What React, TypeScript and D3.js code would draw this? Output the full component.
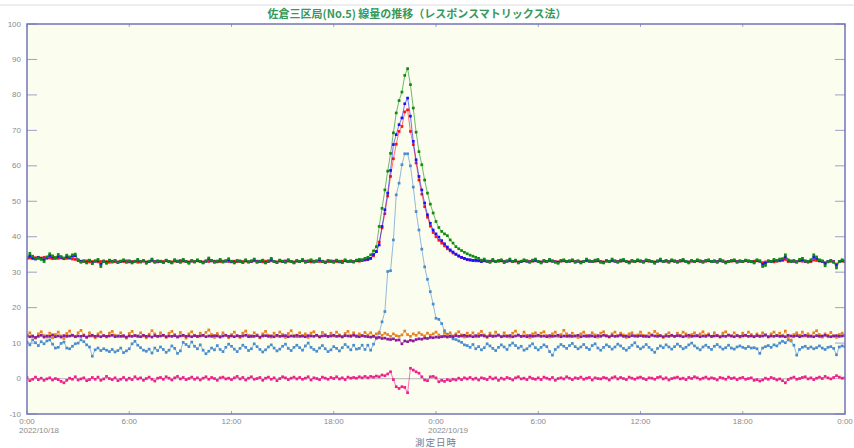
import React from 'react';
import * as d3 from 'd3';

const TITLE = '佐倉三区局(No.5) 線量の推移（レスポンスマトリックス法）';
const X_LABEL = '測定日時';
const HOUR_TICKS = [0, 6, 12, 18, 24, 30, 36, 42, 48];
const TIME_LABELS = ['0:00', '6:00', '12:00', '18:00', '0:00', '6:00', '12:00', '18:00', '0:00'];
const DATE_LABELS = ['2022/10/18', '', '', '', '2022/10/19', '', '', '', ''];
const Y_TICKS = [-10, 0, 10, 20, 30, 40, 50, 60, 70, 80, 90, 100];

// 10-minute samples, 2022/10/18 0:00 .. 2022/10/20 0:00 (289 points each)
const RED = [
  33.9,34.0,33.8,34.1,33.9,34.0,34.2,33.9,34.0,33.8,34.1,33.9,
  34.0,33.8,33.9,34.0,33.7,33.6,33.3,33.1,33.0,33.2,32.9,33.0,
  33.1,32.9,33.0,33.2,33.0,32.8,33.1,33.0,32.9,33.1,33.0,33.2,
  32.9,33.0,33.1,32.8,33.0,33.1,32.9,33.0,33.2,33.0,32.9,33.1,
  33.0,33.2,33.0,32.9,33.1,33.0,33.3,33.1,33.0,32.9,33.1,33.0,
  33.2,33.0,32.9,33.1,33.0,33.2,33.1,32.9,33.0,33.1,33.2,33.0,
  32.9,33.1,33.0,33.2,33.0,33.1,32.9,33.0,33.2,33.1,33.0,32.9,
  33.1,33.0,33.2,33.0,32.9,33.1,33.0,33.2,33.1,33.0,32.9,33.1,
  33.0,33.2,33.1,33.0,32.9,33.1,33.2,33.0,33.1,32.9,33.0,33.2,
  33.1,33.0,32.9,33.1,33.2,33.0,33.1,33.0,33.2,33.1,33.3,33.4,
  33.6,33.9,34.6,35.8,38.5,42.5,46.5,51.5,57.0,62.0,66.1,69.7,
  71.1,75.2,75.8,69.7,66.0,60.8,56.0,52.0,48.5,45.5,43.0,41.2,
  40.0,39.0,38.2,37.4,36.6,36.0,35.4,35.0,34.5,34.1,33.8,33.5,
  33.4,33.3,33.2,33.3,33.1,33.2,33.0,33.1,33.2,33.0,33.1,33.2,
  33.0,33.1,33.2,33.0,33.1,32.9,33.0,33.2,33.1,33.0,33.1,33.2,
  33.0,32.9,33.1,33.0,33.2,33.1,33.0,32.9,33.1,33.2,33.0,33.1,
  33.2,33.0,33.1,32.9,33.0,33.2,33.1,33.0,33.1,33.2,33.0,32.9,
  33.1,33.0,33.2,33.1,33.0,33.1,33.2,33.0,32.9,33.1,33.0,33.2,
  33.1,33.0,33.2,33.1,33.0,32.9,33.1,33.2,33.0,33.1,33.0,33.2,
  33.1,33.0,33.1,33.2,33.0,32.9,33.1,33.0,33.2,33.1,33.0,33.1,
  33.2,33.0,33.1,33.0,33.2,33.1,32.9,33.0,33.1,33.2,33.0,33.1,
  33.0,33.2,33.1,33.0,33.1,33.2,33.1,32.7,32.9,33.1,33.0,32.9,
  33.1,33.2,33.3,33.6,33.0,33.2,33.1,33.0,33.2,33.1,33.0,32.8,
  33.0,33.4,33.3,33.2,33.1,32.7,32.9,33.1,33.0,32.3,33.0,33.1,
  33.0,
];

const BLUE = [
  34.0,34.6,34.1,33.7,34.2,33.8,33.5,34.1,34.7,34.3,33.9,34.5,
  34.2,33.9,34.4,34.0,34.5,34.6,33.4,33.0,33.2,32.8,33.3,32.7,
  33.1,33.3,32.2,33.0,32.7,33.3,32.9,33.2,32.8,33.0,33.3,32.9,
  33.1,32.8,33.0,33.4,32.9,33.2,32.7,33.0,33.5,32.9,33.1,33.0,
  32.8,33.3,33.0,32.7,33.4,33.1,32.9,33.4,33.0,32.7,33.2,32.9,
  33.3,33.0,32.7,33.1,33.7,33.2,32.9,33.1,33.4,32.9,33.1,33.5,
  33.0,32.8,33.2,33.0,32.8,33.3,32.9,33.1,33.5,32.9,33.0,33.3,
  32.7,33.1,33.6,33.0,32.8,33.3,33.0,32.9,33.4,33.0,32.7,33.2,
  33.0,33.4,32.9,33.1,33.3,32.9,33.1,33.5,33.0,32.8,33.2,33.0,
  32.9,33.3,33.0,32.8,33.3,33.0,33.1,32.9,33.3,33.4,33.4,33.6,
  33.6,33.9,35.0,35.8,37.7,42.9,47.6,52.3,58.7,66.0,68.8,71.6,
  73.5,77.5,79.1,74.0,66.9,61.7,57.0,53.2,49.5,46.2,43.8,41.9,
  40.8,39.9,38.9,38.0,37.1,36.3,35.7,35.1,34.6,34.2,33.9,33.6,
  33.5,33.3,33.4,33.2,33.0,33.3,33.1,32.9,33.4,33.0,33.2,33.3,
  32.9,33.1,33.4,33.0,33.2,32.8,33.0,33.3,33.1,32.9,33.2,33.4,
  33.0,32.8,33.2,33.0,33.4,33.1,32.9,32.8,33.2,33.3,33.0,33.1,
  33.3,32.9,33.1,32.8,33.0,33.4,33.1,33.0,33.2,33.3,32.9,32.8,
  33.2,33.0,33.4,33.1,32.9,33.2,33.4,33.0,32.8,33.2,33.0,33.3,
  33.1,32.9,33.3,33.2,33.0,32.7,33.1,33.4,33.0,33.2,32.9,33.3,
  33.1,32.9,33.2,33.4,33.0,32.8,33.2,33.0,33.3,33.1,32.9,33.2,
  33.3,33.0,33.1,32.9,33.4,33.1,32.8,33.0,33.2,33.3,32.9,33.1,
  33.0,33.3,33.1,33.0,32.8,33.3,33.1,32.2,32.5,33.1,33.0,33.3,
  33.2,33.4,33.6,34.3,33.3,33.0,33.1,32.9,33.3,33.5,33.1,33.0,
  33.2,34.2,33.9,33.2,33.0,32.4,33.0,33.2,32.9,31.9,33.0,33.3,
  33.0,
];

const GREEN = [
  34.2,35.3,34.5,33.8,34.0,33.6,33.0,34.3,35.2,34.6,34.1,35.0,
  34.4,34.0,34.8,34.3,34.9,35.1,33.5,32.8,33.1,32.6,33.4,32.4,
  33.2,33.6,31.6,33.0,32.5,33.4,32.9,33.3,32.7,33.1,33.5,32.8,
  33.2,32.6,33.0,33.6,32.9,33.3,32.5,33.1,33.7,32.8,33.2,33.0,
  32.7,33.4,33.0,32.6,33.5,33.1,32.8,33.6,33.0,32.5,33.3,32.9,
  33.5,33.0,32.6,33.2,34.0,33.3,32.8,33.1,33.6,32.9,33.2,33.8,
  33.1,32.6,33.3,33.0,32.7,33.5,32.9,33.2,33.7,32.8,33.1,33.4,
  32.6,33.2,33.9,33.0,32.7,33.4,33.1,32.8,33.5,33.0,32.6,33.3,
  33.0,33.6,32.8,33.2,33.5,32.9,33.1,33.8,33.0,32.7,33.3,33.0,
  32.8,33.4,33.1,32.7,33.5,33.0,33.2,32.9,33.4,33.6,33.5,33.9,
  34.2,34.9,36.0,37.2,42.9,48.0,53.2,58.5,63.5,69.3,74.9,78.4,
  80.8,85.5,87.4,82.9,76.3,69.5,64.0,60.3,56.0,52.3,49.2,46.7,
  44.3,42.6,41.5,40.8,40.3,39.1,38.2,37.2,36.6,36.1,35.6,35.2,
  34.8,34.5,34.2,33.9,33.4,33.7,33.1,32.8,33.6,33.0,33.3,33.5,
  32.7,33.2,33.7,33.0,33.4,32.6,33.1,33.5,33.2,32.8,33.4,33.7,
  33.0,32.6,33.3,33.0,33.6,33.2,32.8,32.5,33.3,33.5,33.0,33.2,
  33.5,32.8,33.2,32.6,33.0,33.7,33.2,33.0,33.4,33.6,32.8,32.6,
  33.3,33.0,33.7,33.2,32.8,33.4,33.6,33.0,32.6,33.3,33.0,33.5,
  33.2,32.8,33.5,33.3,33.0,32.5,33.2,33.7,33.0,33.3,32.8,33.5,
  33.2,32.8,33.3,33.6,33.0,32.6,33.3,33.0,33.5,33.2,32.8,33.3,
  33.5,33.0,33.2,32.8,33.6,33.2,32.6,33.0,33.3,33.5,32.8,33.2,
  33.0,33.4,33.2,33.0,32.6,33.5,33.2,31.6,31.9,33.2,33.0,33.6,
  33.3,33.7,33.8,34.9,33.5,33.0,33.3,32.8,33.6,33.9,33.2,33.0,
  33.5,34.9,34.3,33.5,33.2,31.8,33.0,33.3,32.8,31.2,33.0,33.5,
  33.2,
];

const LIGHT_BLUE = [
  10.2,9.5,10.9,10.1,9.3,10.4,9.8,10.6,10.9,9.7,8.6,8.8,
  9.9,10.3,8.6,8.4,9.1,9.8,10.0,10.9,10.4,9.5,8.9,6.3,
  8.1,8.6,7.9,8.4,8.0,7.6,8.2,7.5,7.9,8.6,7.3,7.8,
  8.4,9.8,10.5,9.4,8.7,8.0,7.7,8.3,7.2,8.6,7.9,8.9,
  8.2,7.4,8.0,9.2,8.5,7.1,7.8,10.2,9.6,9.0,10.3,9.1,
  8.4,9.5,8.0,7.0,7.7,8.6,8.1,9.3,8.2,7.6,8.8,9.7,
  9.1,8.3,7.6,8.5,9.4,8.8,7.9,8.4,9.8,9.0,8.2,7.5,
  8.1,8.9,9.5,8.6,7.8,8.3,9.1,9.7,8.5,7.9,8.8,9.4,
  8.7,8.0,9.2,10.0,8.8,8.2,7.7,8.6,9.3,8.4,7.6,8.1,
  9.0,8.5,7.8,8.7,9.6,8.9,8.1,9.4,8.3,8.5,9.4,8.2,
  9.4,8.0,9.7,11.3,12.8,16.0,18.9,30.2,30.4,39.1,51.8,55.1,
  60.3,63.4,63.4,60.0,54.0,47.1,41.9,36.5,31.5,28.0,24.5,21.0,
  17.0,16.7,15.5,13.5,12.5,11.8,11.2,11.0,10.6,10.2,9.5,9.3,
  8.8,9.6,8.4,9.0,8.1,8.7,9.8,9.2,8.5,7.9,8.8,9.5,
  8.9,8.2,9.4,10.0,9.3,8.6,9.1,8.0,8.4,9.2,9.8,8.7,
  8.1,8.8,9.5,9.0,7.6,6.6,8.2,8.9,9.6,9.1,8.5,9.3,
  9.9,9.0,8.4,8.9,9.6,8.7,8.2,9.3,9.8,8.6,8.0,8.8,
  9.5,9.0,8.3,8.9,9.7,9.2,8.5,8.0,8.7,9.4,10.1,9.0,
  8.4,8.9,9.6,8.8,8.1,7.4,8.5,9.2,8.7,9.5,8.9,8.3,
  9.0,9.7,9.1,8.4,8.8,9.5,10.0,9.2,8.6,8.1,8.9,9.4,
  8.8,8.2,9.1,9.6,8.9,8.3,8.7,9.4,8.6,8.3,8.9,9.2,
  8.8,8.5,9.0,8.6,8.7,8.4,7.1,8.6,9.0,9.3,8.8,9.5,
  9.2,10.0,10.5,10.1,10.9,10.6,9.4,6.6,8.2,8.8,9.1,8.5,
  8.9,8.4,8.7,9.2,8.6,8.2,8.8,9.0,8.5,6.7,8.9,9.2,
  9.0,
];

const ORANGE = [
  12.0,12.9,11.8,11.4,12.6,13.2,12.1,11.7,12.8,11.5,12.4,13.1,
  12.0,11.3,12.7,13.4,12.2,11.8,12.9,13.6,12.3,11.6,12.9,12.0,
  11.5,12.6,13.1,12.1,11.7,12.8,13.3,12.2,11.9,12.9,11.8,11.4,
  12.7,13.3,12.2,11.8,12.9,12.0,11.5,12.5,13.5,12.6,11.9,12.9,
  12.2,11.6,12.8,13.3,12.4,11.9,13.0,12.1,11.4,12.6,13.2,12.2,
  11.8,12.8,12.1,13.0,13.7,12.4,11.6,12.7,11.9,12.9,12.2,11.5,
  12.4,13.1,12.0,11.6,12.8,13.4,12.2,11.8,12.9,12.3,11.5,12.6,
  13.3,12.2,11.7,12.8,12.0,13.1,12.4,11.6,12.7,13.5,12.1,11.8,
  12.9,12.0,12.6,11.6,12.8,13.2,12.2,11.7,13.0,12.4,11.8,12.8,
  12.0,13.1,12.3,11.7,12.7,13.3,12.1,12.9,11.8,12.6,12.0,13.0,
  12.3,12.9,12.0,12.6,13.1,12.2,12.8,12.4,11.9,12.6,12.1,11.9,
  12.3,13.4,12.4,11.9,12.6,12.2,12.9,12.4,12.0,12.8,12.2,12.6,
  13.1,12.3,11.8,12.8,12.1,12.9,12.0,12.6,13.2,12.3,11.7,12.8,
  12.1,12.9,11.8,12.6,13.3,12.3,11.6,12.8,12.0,13.1,12.3,11.8,
  12.9,12.1,11.7,12.8,13.4,12.3,11.9,13.1,12.2,11.6,12.6,12.9,
  12.0,12.8,13.2,12.1,11.7,12.6,13.1,11.9,12.4,13.6,12.6,11.8,
  12.8,12.0,11.6,12.6,13.1,12.2,11.8,12.9,12.3,11.7,12.8,13.2,
  12.1,11.7,12.6,13.1,12.0,12.8,12.3,11.6,12.6,12.9,12.0,12.3,
  13.1,12.2,11.8,12.8,12.3,13.3,12.6,12.0,11.6,12.4,12.9,12.1,
  11.9,12.8,12.2,13.1,12.6,11.7,12.4,12.9,12.0,12.6,13.2,12.2,
  12.6,11.8,12.9,12.2,11.7,12.8,13.2,12.3,12.0,12.9,12.2,11.7,
  12.8,12.1,13.1,12.4,11.8,12.6,12.0,12.9,12.4,11.7,12.6,13.1,
  12.2,12.8,12.0,13.4,11.6,10.8,12.4,12.9,12.2,13.1,12.0,12.6,
  11.9,12.9,13.5,12.4,11.7,12.6,12.2,13.0,12.0,11.6,12.4,12.8,
  12.2,
];

const PURPLE = [
  12.1,11.8,12.0,11.6,11.9,12.2,11.7,12.0,11.9,12.3,11.8,12.0,
  11.7,12.1,11.9,12.0,12.2,11.8,12.0,11.9,12.1,11.7,12.0,12.2,
  11.9,12.0,11.8,12.1,11.9,12.0,12.2,11.8,12.0,11.9,12.1,11.7,
  12.0,11.9,12.1,12.0,11.8,12.2,11.9,12.0,11.7,12.1,11.9,12.0,
  12.2,11.8,12.0,11.9,12.1,11.7,12.0,12.2,11.9,12.0,11.8,12.1,
  11.9,12.0,12.2,11.8,12.0,11.9,12.1,12.0,11.7,12.0,12.2,11.9,
  12.0,11.8,12.1,11.9,12.0,12.2,11.8,12.0,11.9,12.1,11.7,12.0,
  12.1,11.9,12.0,11.8,12.2,11.9,12.0,12.1,11.8,12.0,11.9,12.2,
  11.9,12.0,11.8,12.1,12.0,11.9,12.2,11.8,12.0,12.1,11.9,12.0,
  12.2,11.9,12.0,11.8,12.1,12.0,11.9,12.2,12.0,11.8,12.1,11.9,
  11.8,11.7,11.9,11.5,11.6,11.3,11.4,11.1,11.0,11.2,10.8,10.9,
  9.8,10.6,10.4,10.8,10.6,11.0,11.2,11.1,11.4,11.3,11.6,11.5,
  11.7,11.6,11.8,11.9,11.7,12.0,11.8,12.1,11.9,12.0,12.2,11.9,
  12.0,11.8,12.1,11.9,12.2,12.0,11.8,12.1,11.9,12.0,12.2,11.8,
  12.0,11.9,12.1,11.8,12.0,12.2,11.9,12.0,11.8,12.1,11.9,12.0,
  12.2,11.9,12.0,11.8,12.1,11.9,12.0,12.2,11.8,12.0,11.9,12.1,
  11.9,12.0,12.2,11.8,12.0,11.9,12.1,12.0,11.8,12.1,11.9,12.2,
  12.0,11.8,12.1,11.9,12.0,12.2,11.9,12.0,11.8,12.1,12.0,11.9,
  12.1,11.9,12.0,11.8,12.2,12.0,11.9,12.1,11.8,12.0,11.9,12.2,
  11.9,12.1,12.0,11.8,12.0,12.2,11.9,12.0,12.1,11.8,12.0,11.9,
  12.2,11.9,12.0,12.1,11.8,12.0,11.9,12.2,12.0,11.8,12.1,11.9,
  12.0,12.2,11.9,12.0,11.8,12.1,11.9,12.0,12.2,11.8,12.0,11.9,
  12.1,11.9,12.0,11.8,12.2,12.0,11.9,12.1,11.8,12.0,12.2,11.9,
  12.0,11.8,12.1,11.9,12.0,12.2,11.9,11.8,12.0,12.1,11.9,12.0,
  12.1,
];

const PINK = [
  0.3,-0.6,-0.2,0.4,-0.3,0.1,-0.5,-0.1,0.2,-0.4,0.0,-0.3,
  -0.8,-1.2,-0.5,0.1,-0.2,0.5,-0.4,-0.1,0.2,-0.6,-0.3,0.3,
  -0.2,0.4,-0.5,-0.1,0.6,0.0,-0.3,0.2,-0.6,-0.2,0.3,-0.4,
  0.1,-0.3,0.5,-0.1,0.2,-0.5,0.0,0.4,-0.2,-0.7,0.1,0.3,
  -0.2,0.5,0.1,-0.4,0.2,0.6,-0.1,0.3,-0.3,0.0,0.4,-0.2,
  0.2,-0.4,0.1,0.5,-0.2,0.3,0.0,-0.5,0.2,0.4,-0.1,0.1,
  -0.3,0.2,0.6,-0.1,0.3,-0.4,0.1,0.5,-0.2,0.0,0.3,-0.5,
  0.1,0.4,-0.2,0.2,-0.6,0.0,0.5,0.2,-0.3,0.1,0.4,-0.1,
  0.3,-0.2,0.1,0.5,-0.4,0.2,0.0,-0.3,0.4,0.1,-0.2,0.3,
  0.0,0.5,-0.1,0.2,-0.3,0.4,0.1,0.3,0.1,0.5,0.2,0.6,
  0.2,0.6,0.4,0.7,0.5,1.0,0.8,1.3,1.9,-0.3,-2.3,-2.8,
  -2.3,-2.5,-4.0,2.9,2.4,1.9,1.5,0.5,-0.4,-0.6,0.5,0.6,
  0.2,-0.9,-0.5,-0.8,-0.3,-0.6,-0.2,-0.4,0.1,-0.3,0.2,-0.1,
  0.3,-0.2,0.1,-0.4,0.2,0.0,-0.3,0.4,-0.1,0.2,-0.5,0.1,
  -0.2,0.3,0.0,-0.4,0.2,0.5,-0.1,0.1,-0.3,0.4,0.0,-0.2,
  0.2,-0.3,0.4,0.1,-0.2,0.3,-0.5,0.0,0.2,-0.1,0.5,0.1,
  -0.3,0.2,0.0,0.4,-0.2,0.1,0.3,-0.4,0.2,0.0,-0.1,0.3,
  0.1,-0.4,0.2,0.5,-0.1,0.3,0.0,-0.3,0.4,0.1,-0.2,0.2,
  0.4,0.0,-0.3,0.2,0.1,-0.2,0.3,0.5,-0.1,0.2,-0.4,0.0,
  0.2,0.4,-0.1,0.1,-0.3,0.3,0.0,0.5,0.2,-0.2,0.1,0.4,
  -0.1,0.2,0.0,-0.4,0.3,0.1,-0.2,0.4,0.0,0.2,-0.3,0.1,
  0.3,-0.2,0.0,0.2,-0.5,-0.3,-0.7,-0.4,0.1,-0.2,0.3,0.0,
  -0.4,-0.1,-0.6,-1.2,-0.3,0.1,0.4,-0.2,0.0,0.3,0.5,-0.1,
  0.2,-0.3,0.1,0.4,0.0,0.6,0.2,-0.1,0.3,0.8,0.4,0.1,
  0.2,
];

const W = 854;
const H = 448;
const PLOT = { left: 27, right: 845, top: 24, bottom: 414 };
const AXIS_COLOR = '#7474b8';
const TICK_COLOR = '#a0a0cc';
const LABEL_COLOR = '#8a8a8a';
const LABEL_FONT = '"Liberation Sans", Arial, sans-serif';
const CJK_FONT = '"Noto Sans CJK JP", "Noto Sans", sans-serif';

const SERIES = [
  { name: 'lightblue', data: LIGHT_BLUE, color: '#4a8ccd' },
  { name: 'orange', data: ORANGE, color: '#e8801c' },
  { name: 'purple', data: PURPLE, color: '#8a1c9c' },
  { name: 'pink', data: PINK, color: '#f01e8c' },
  { name: 'red', data: RED, color: '#ff1414' },
  { name: 'blue', data: BLUE, color: '#1414ff' },
  { name: 'green', data: GREEN, color: '#108a10' },
];

export default function App() {
  const x = d3.scaleLinear().domain([0, 288]).range([PLOT.left, PLOT.right]);
  const y = d3.scaleLinear().domain([-10, 100]).range([PLOT.bottom, PLOT.top]);
  const line = d3
    .line<number>()
    .x((_, i) => x(i))
    .y((d) => y(d));
  const ms = 2.7;

  return (
    <svg
      width={W}
      height={H}
      style={{ position: 'absolute', left: 0, top: 0, background: '#ffffff' }}
    >
      <defs>
        <clipPath id="plotclip">
          <rect x={PLOT.left} y={PLOT.top} width={PLOT.right - PLOT.left} height={PLOT.bottom - PLOT.top} />
        </clipPath>
      </defs>
      <rect x={0} y={0} width={W} height={H} fill="#ffffff" />
      <line x1={0} x2={W} y1={5} y2={5} stroke="#dcdcdc" strokeWidth={1} />
      <text
        x={417}
        y={18}
        textAnchor="middle"
        fontFamily={CJK_FONT}
        fontWeight="bold"
        fontSize={11}
        fill="#35995a"
      >
        {TITLE}
      </text>

      <rect
        x={PLOT.left}
        y={PLOT.top}
        width={PLOT.right - PLOT.left}
        height={PLOT.bottom - PLOT.top}
        fill="#fbfdee"
      />

      {Y_TICKS.map((v) => (
        <g key={'yt' + v}>
          <line x1={PLOT.left} x2={PLOT.left + 10} y1={y(v)} y2={y(v)} stroke={TICK_COLOR} strokeWidth={1} />
          <line x1={PLOT.right - 10} x2={PLOT.right} y1={y(v)} y2={y(v)} stroke={TICK_COLOR} strokeWidth={1} />
          <text
            x={21}
            y={y(v)}
            textAnchor="end"
            dominantBaseline="central"
            fontFamily={LABEL_FONT}
            fontSize={8}
            fill={LABEL_COLOR}
          >
            {v}
          </text>
        </g>
      ))}

      {HOUR_TICKS.map((h, k) => {
        const xi = x(h * 6);
        return (
          <g key={'xt' + k}>
            <line x1={xi} x2={xi} y1={PLOT.top} y2={PLOT.top + 3} stroke={TICK_COLOR} strokeWidth={1} />
            <line x1={xi} x2={xi} y1={PLOT.bottom - 3} y2={PLOT.bottom} stroke={TICK_COLOR} strokeWidth={1} />
            <text
              x={xi}
              y={424}
              textAnchor="middle"
              fontFamily={LABEL_FONT}
              fontSize={8}
              fill={LABEL_COLOR}
            >
              {TIME_LABELS[k]}
            </text>
            {DATE_LABELS[k] ? (
              <text
                x={xi - 8}
                y={432.5}
                textAnchor="start"
                fontFamily={LABEL_FONT}
                fontSize={8}
                fill={LABEL_COLOR}
              >
                {DATE_LABELS[k]}
              </text>
            ) : null}
          </g>
        );
      })}

      <text
        x={436}
        y={446}
        textAnchor="middle"
        fontFamily={CJK_FONT}
        fontSize={9.5}
        letterSpacing={1}
        fill="#7a7a8a"
      >
        {X_LABEL}
      </text>

      <g clipPath="url(#plotclip)">
        <line x1={PLOT.left} x2={PLOT.right} y1={y(0)} y2={y(0)} stroke="#c4c4c4" strokeWidth={1.2} />
        {SERIES.map((s) => (
          <g key={s.name}>
            <path d={line(s.data) || ''} fill="none" stroke={s.color} strokeWidth={0.8} strokeOpacity={0.75} />
            {s.data.map((v, i) => (
              <rect
                key={i}
                x={x(i) - ms / 2}
                y={y(v) - ms / 2}
                width={ms}
                height={ms}
                fill={s.color}
              />
            ))}
          </g>
        ))}
      </g>

      <rect
        x={PLOT.left}
        y={PLOT.top}
        width={PLOT.right - PLOT.left}
        height={PLOT.bottom - PLOT.top}
        fill="none"
        stroke={AXIS_COLOR}
        strokeWidth={1.5}
      />
    </svg>
  );
}
